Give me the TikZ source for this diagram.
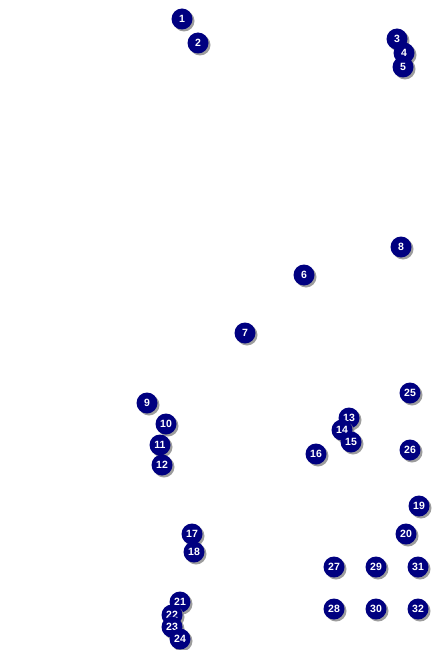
\documentclass[tikz,border=0pt]{standalone}
\usepackage{fontspec}
\setmainfont{Liberation Sans}
\usetikzlibrary{shadows}
\definecolor{navyball}{HTML}{000080}
\definecolor{shadowgray}{HTML}{8C8C8C}
\tikzset{
  ball/.style={circle, fill=navyball, minimum size=21pt, inner sep=0pt,
    text=white, font=\fontsize{10.5pt}{11pt}\selectfont\bfseries,
    drop shadow={shadow xshift=2pt, shadow yshift=-2pt, fill=shadowgray, opacity=0.85}}
}
\begin{document}
\begin{tikzpicture}[x=1pt,y=-1pt]
\useasboundingbox (0,0) rectangle (435,650);
\foreach \n/\x/\y in {1/182/19, 2/198/43, 3/397/39, 4/404/53, 5/403/67,
  6/304/275, 7/245/333, 8/401/247, 9/147/403, 10/166/424, 11/160/445, 12/162/465,
  13/349/418, 14/342/430, 15/351/442, 16/316/454, 17/192/534, 18/194/552,
  19/419/506, 20/406/534, 21/180/602, 22/172/615, 23/172/627, 24/180/639,
  25/410/393, 26/410/450, 27/334/567, 28/334/609, 29/376/567, 30/376/609,
  31/418/567, 32/418/609}
  \node[ball] (b\n) at (\x,\y) {\n};
\end{tikzpicture}
\end{document}
